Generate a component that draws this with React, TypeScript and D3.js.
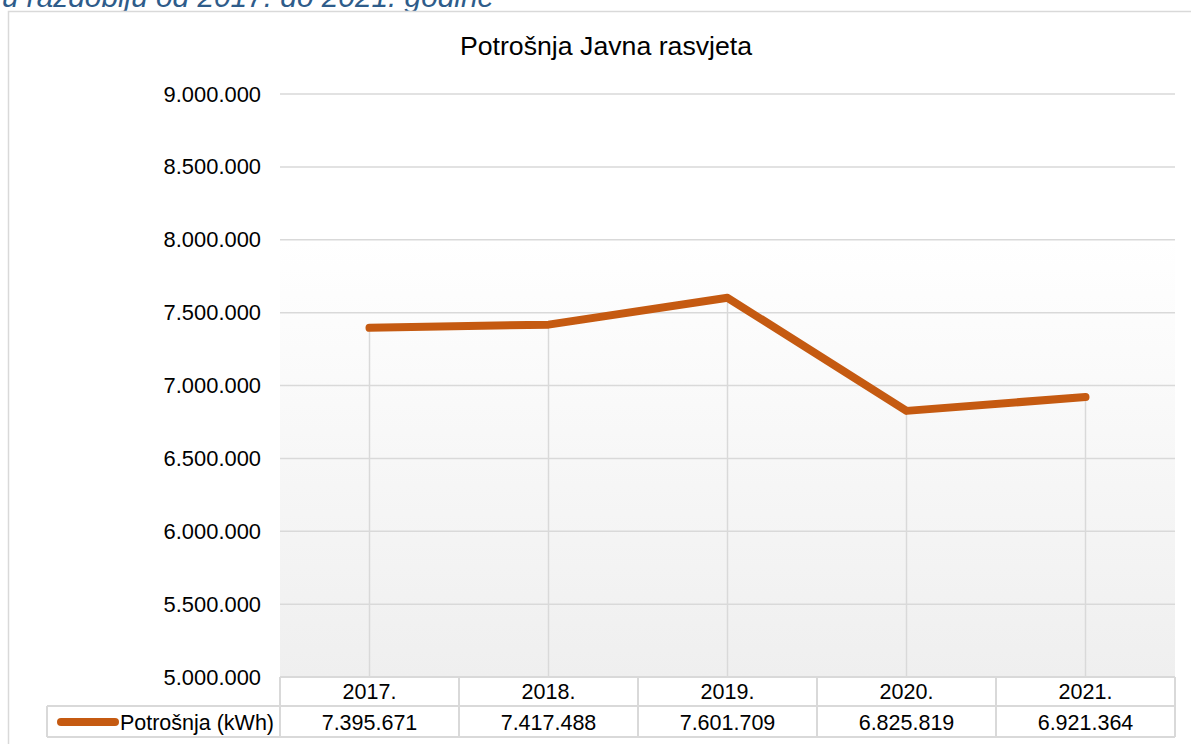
import React from "react";
import * as d3 from "d3";

const years = ["2017.", "2018.", "2019.", "2020.", "2021."];
const consumption = [7395671, 7417488, 7601709, 6825819, 6921364];
const yTicks = [5000000, 5500000, 6000000, 6500000, 7000000, 7500000, 8000000, 8500000, 9000000];
const seriesName = "Potrošnja (kWh)";
const chartTitle = "Potrošnja Javna rasvjeta";
const caption = "u razdoblju od 2017. do 2021. godine";

const W = 1191;
const H = 744;
const FONT = "'Liberation Sans', Arial, Helvetica, sans-serif";
const LINE = "#C55A11";
const GRID = "#d9d9d9";

const locale = d3.formatLocale({ decimal: ",", thousands: ".", grouping: [3], currency: ["", ""] });
const fmt = locale.format(",d");

export default function App() {
  const left = 280;
  const right = 1175;
  const top = 94;
  const bottom = 677;
  const headerBottom = 706;
  const rowBottom = 737;
  const legendLeft = 47;

  const x = d3.scaleBand<string>().domain(years).range([left, right]).padding(0);
  const y = d3.scaleLinear().domain([5000000, 9000000]).range([bottom, top]);
  const cx = (i: number) => (x(years[i]) as number) + x.bandwidth() / 2;

  const line = d3
    .line<number>()
    .x((_, i) => cx(i))
    .y((d) => y(d));

  return (
    <svg
      width={W}
      height={H}
      viewBox={`0 0 ${W} ${H}`}
      style={{ position: "absolute", left: 0, top: 0, background: "#fff" }}
      fontFamily={FONT}
    >
      <defs>
        <linearGradient id="plotBg" x1="0" y1="0" x2="0" y2="1">
          <stop offset="0%" stopColor="#ffffff" />
          <stop offset="25%" stopColor="#ffffff" />
          <stop offset="100%" stopColor="#efefef" />
        </linearGradient>
      </defs>

      {/* caption partially cut at top */}
      <text x={2} y={6.5} fontSize={29.8} fontStyle="italic" fill="#2E5C8A">
        {caption}
      </text>

      {/* chart frame */}
      <rect x={8.5} y={11.5} width={1300} height={900} fill="#fff" stroke={GRID} strokeWidth={1.5} />

      {/* title */}
      <text x={606} y={55} fontSize={26.7} textAnchor="middle" fill="#000">
        {chartTitle}
      </text>

      {/* plot background */}
      <rect x={left} y={top} width={right - left} height={bottom - top} fill="url(#plotBg)" />

      {/* horizontal gridlines */}
      {yTicks.map((t) => (
        <line key={t} x1={left} x2={right} y1={y(t)} y2={y(t)} stroke={GRID} strokeWidth={1.5} />
      ))}

      {/* y tick labels */}
      {yTicks.map((t) => (
        <text key={"l" + t} x={261} y={y(t) + 7.5} fontSize={21.9} textAnchor="end" fill="#000">
          {fmt(t)}
        </text>
      ))}

      {/* drop lines */}
      {consumption.map((v, i) => (
        <line key={"d" + i} x1={cx(i)} x2={cx(i)} y1={y(v)} y2={bottom} stroke={GRID} strokeWidth={1.5} />
      ))}

      {/* series line */}
      <path
        d={line(consumption) || ""}
        fill="none"
        stroke={LINE}
        strokeWidth={8}
        strokeLinecap="round"
        strokeLinejoin="round"
      />

      {/* data table */}
      <g stroke={GRID} strokeWidth={2} fill="none">
        <line x1={left} x2={right} y1={bottom} y2={bottom} />
        <line x1={legendLeft} x2={right} y1={headerBottom} y2={headerBottom} />
        <line x1={legendLeft} x2={right} y1={rowBottom} y2={rowBottom} />
        <line x1={legendLeft} x2={legendLeft} y1={headerBottom} y2={rowBottom} />
        <line x1={left} x2={left} y1={bottom} y2={rowBottom} />
        {years.map((yr) => (
          <line
            key={"v" + yr}
            x1={(x(yr) as number) + x.bandwidth()}
            x2={(x(yr) as number) + x.bandwidth()}
            y1={bottom}
            y2={rowBottom}
          />
        ))}
      </g>

      {years.map((yr, i) => (
        <text key={"h" + yr} x={cx(i)} y={699} fontSize={21.5} textAnchor="middle" fill="#000">
          {yr}
        </text>
      ))}
      {consumption.map((v, i) => (
        <text key={"c" + i} x={cx(i)} y={730} fontSize={21.5} textAnchor="middle" fill="#000">
          {fmt(v)}
        </text>
      ))}

      {/* legend key */}
      <line x1={61} x2={115} y1={722} y2={722} stroke={LINE} strokeWidth={8} strokeLinecap="round" />
      <text x={274} y={730} fontSize={21.5} textAnchor="end" fill="#000">
        {seriesName}
      </text>
    </svg>
  );
}
